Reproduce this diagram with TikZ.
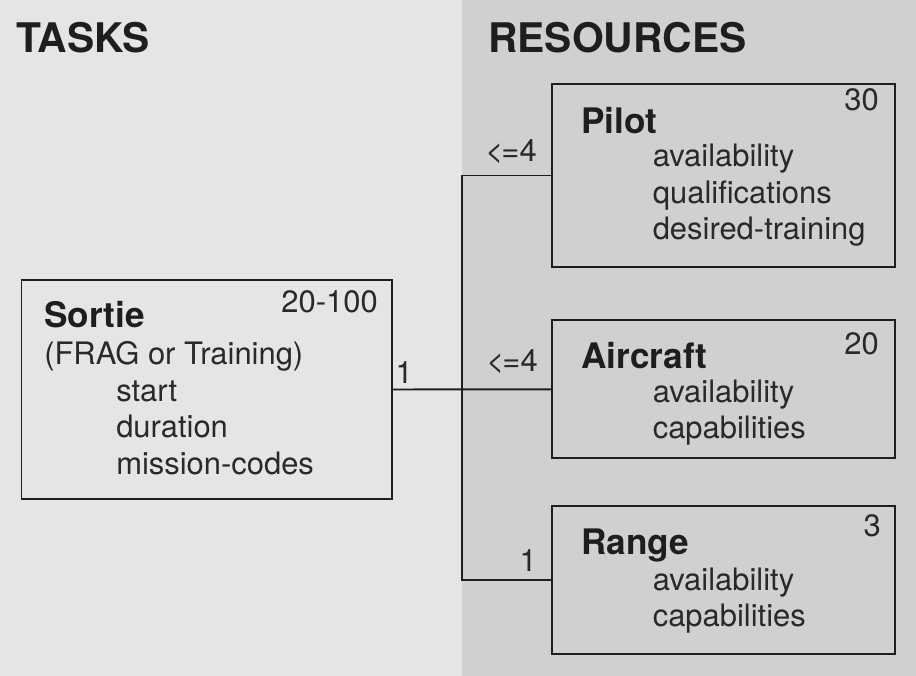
\documentclass[tikz,border=0pt]{standalone}
\usepackage{fontspec}
\setmainfont{TeX Gyre Heros}
\usetikzlibrary{positioning}
\definecolor{taskgray}{HTML}{E5E5E5}
\definecolor{resgray}{HTML}{D0D0D0}
\definecolor{ink}{HTML}{1E1E1E}
\tikzset{
  heading/.style={font=\bfseries\fontsize{29}{34}\selectfont, anchor=base west, inner sep=0pt, text=ink},
  entity/.style={
    rectangle,
    draw=ink, line width=1.4pt,
    anchor=north west,
    inner sep=0pt},
  taskbox/.style={entity, fill=taskgray, minimum width=9.25cm},
  resbox/.style={entity, fill=resgray, minimum width=8.575cm},
  ename/.style={font=\bfseries\fontsize{25}{30}\selectfont, anchor=base west, inner sep=0pt, text=ink},
  % base of a block of lines = baseline of its last line
  attrs/.style={font=\fontsize{22}{25.8}\selectfont, align=left, anchor=base west, inner sep=0pt, text=ink!95},
  count/.style={font=\fontsize{22}{26}\selectfont, anchor=base east, inner sep=0pt, text=ink!95},
  card/.style={count},
  link/.style={draw=ink, line width=1.4pt},
}
\newcommand{\atmost}{<\kern-1.5pt=}
\begin{document}
\begin{tikzpicture}[x=0.025cm, y=-0.025cm]
  % the two columns
  \fill[taskgray] (0,0) rectangle (462,676);
  \fill[resgray] (462,0) rectangle (916,676);
  \useasboundingbox (0,0) rectangle (916,676);
  \node[heading] (TasksHead) at (16,53)  {TASKS};
  \node[heading] (ResHead)   at (488,53) {RESOURCES};

  % task
  \node[taskbox, minimum height=5.475cm] (Sortie) at (20.5,279) {};
  \node[ename] (SortieName) at (44,328) {Sortie};
  \node[attrs] (SortieKind) at (44,364) {(FRAG or Training)};
  \node[attrs] (SortieAttr) at (116,474) {start\\duration\\mission-codes};
  \node[count] (SortieCount) at (378,312.5) {20-100};

  % resources
  \node[resbox, minimum height=4.575cm] (Pilot) at (551,83) {};
  \node[ename] (PilotName) at (581,133.3) {Pilot};
  \node[attrs] (PilotAttr) at (652.5,239.3) {availability\\qualifications\\desired-training};
  \node[count] (PilotCount) at (879,110.7) {30};

  \node[resbox, minimum height=3.44cm] (Aircraft) at (551,319.5) {};
  \node[ename] (AircraftName) at (581,368.3) {Aircraft};
  \node[attrs] (AircraftAttr) at (652.5,438.3) {availability\\capabilities};
  \node[count] (AircraftCount) at (879,354) {20};

  \node[resbox, minimum height=3.69cm] (Range) at (551,505) {};
  \node[ename] (RangeName) at (581,554) {Range};
  \node[attrs] (RangeAttr) at (652.5,626.7) {availability\\capabilities};
  \node[count] (RangeCount) at (881,536) {3};

  % connectors
  \coordinate (Bus) at (462,0);
  \draw[link] (Sortie.east) -- (Aircraft.west);
  \draw[link] (Pilot.west) -- (Pilot.west -| Bus) -- (Range.west -| Bus) -- (Range.west);
  \node[card] (SortieCard)   at (413,383)   {1};
  \node[card] (PilotCard)    at (537,161.7) {\atmost4};
  \node[card] (AircraftCard) at (538,371.7) {\atmost4};
  \node[card] (RangeCard)    at (537,571.7) {1};
\end{tikzpicture}
\end{document}
